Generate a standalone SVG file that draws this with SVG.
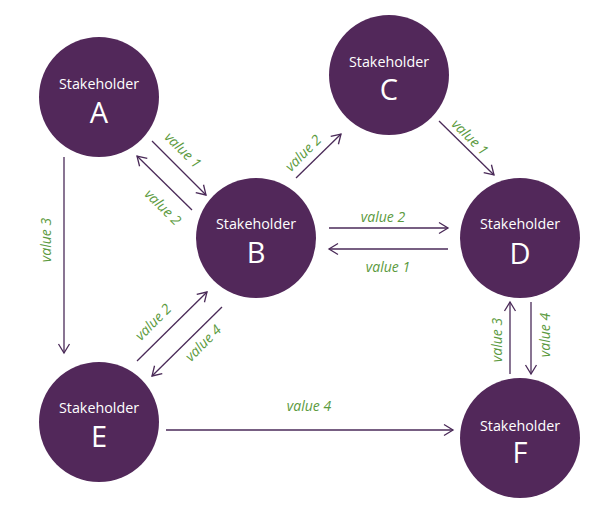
<svg xmlns="http://www.w3.org/2000/svg" width="604" height="507" viewBox="0 0 604 507">
<defs>
<style>
.node{fill:#52285a;}
.t1{font-family:"Open Sans","Noto Sans",sans-serif;font-size:14.3px;fill:#ffffff;text-anchor:middle;}
.t2{font-family:"Open Sans","Noto Sans",sans-serif;font-size:29px;fill:#ffffff;text-anchor:middle;}
.lab{font-family:"Open Sans","Noto Sans",sans-serif;font-size:14px;font-style:italic;fill:#5b9a40;text-anchor:middle;}
.c{stroke:#4a2a58;stroke-width:1.3;fill:none;marker-end:url(#ah);}
</style>
<marker id="ah" viewBox="-11 -7 13 14" refX="0" refY="0" markerWidth="13" markerHeight="14" markerUnits="userSpaceOnUse" orient="auto" overflow="visible">
<path d="M-9,-5.5 L0,0 L-9,5.5" fill="none" stroke="#4a2a58" stroke-width="1.3"/>
</marker>
</defs>
<rect width="604" height="507" fill="#ffffff"/>
<g id="connectors">
<line class="c" x1="152" y1="141" x2="206" y2="195"/>
<line class="c" x1="192" y1="210" x2="137" y2="156"/>
<line class="c" x1="64" y1="157" x2="64" y2="353"/>
<line class="c" x1="296" y1="178" x2="341" y2="134"/>
<line class="c" x1="439" y1="121" x2="494" y2="175"/>
<line class="c" x1="329" y1="228" x2="448" y2="228"/>
<line class="c" x1="448" y1="249" x2="329" y2="249"/>
<line class="c" x1="510" y1="374" x2="510" y2="302"/>
<line class="c" x1="531" y1="302" x2="531" y2="374"/>
<line class="c" x1="137" y1="361" x2="207" y2="292"/>
<line class="c" x1="222" y1="307" x2="152" y2="376"/>
<line class="c" x1="166" y1="430" x2="453" y2="430"/>
<g id="labels">
<text class="lab" transform="translate(183,150) rotate(45)" y="5">value 1</text>
<text class="lab" transform="translate(163,207) rotate(45)" y="5">value 2</text>
<text class="lab" transform="translate(46,240) rotate(-90)" y="5">value 3</text>
<text class="lab" transform="translate(303,153) rotate(-45)" y="5">value 2</text>
<text class="lab" transform="translate(470,137) rotate(45)" y="5">value 1</text>
<text class="lab" x="383" y="222">value 2</text>
<text class="lab" x="388" y="272">value 1</text>
<text class="lab" transform="translate(497,340) rotate(-90)" y="5">value 3</text>
<text class="lab" transform="translate(545,335) rotate(-90)" y="5">value 4</text>
<text class="lab" transform="translate(153,322) rotate(-45)" y="5">value 2</text>
<text class="lab" transform="translate(203,343) rotate(-45)" y="5">value 4</text>
<text class="lab" x="309" y="411">value 4</text>
</g>
</g>
<g id="nodeA"><circle class="node" cx="99" cy="97" r="60"/><text class="t1" x="99" y="89">Stakeholder</text><text class="t2" x="99" y="123">A</text></g>
<g id="nodeB"><circle class="node" cx="256" cy="238" r="60"/><text class="t1" x="256" y="229">Stakeholder</text><text class="t2" x="256" y="263">B</text></g>
<g id="nodeC"><circle class="node" cx="389" cy="75" r="60"/><text class="t1" x="389" y="67">Stakeholder</text><text class="t2" x="389" y="100">C</text></g>
<g id="nodeD"><circle class="node" cx="520" cy="238" r="60"/><text class="t1" x="520" y="229">Stakeholder</text><text class="t2" x="520" y="264">D</text></g>
<g id="nodeE"><circle class="node" cx="99" cy="422" r="60"/><text class="t1" x="99" y="413">Stakeholder</text><text class="t2" x="99" y="447">E</text></g>
<g id="nodeF"><circle class="node" cx="520" cy="438" r="60"/><text class="t1" x="520" y="431">Stakeholder</text><text class="t2" x="520" y="463">F</text></g>
</svg>
